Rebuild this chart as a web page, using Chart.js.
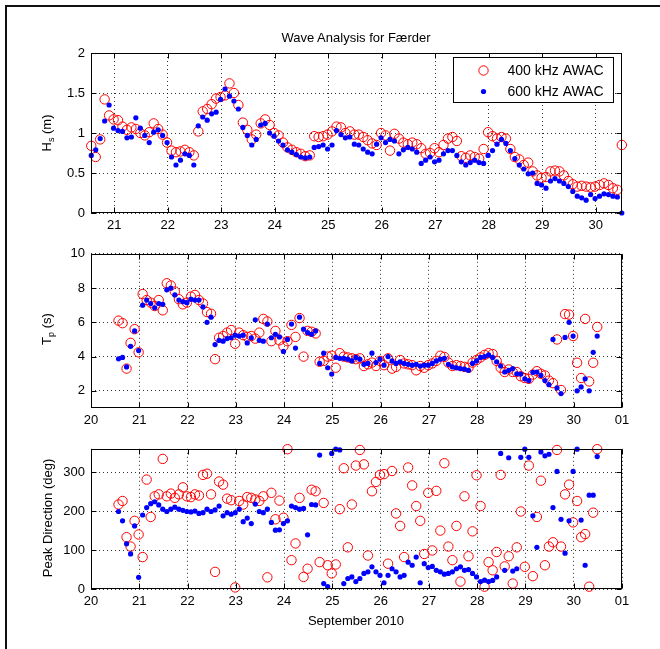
<!DOCTYPE html>
<html>
<head>
<meta charset="utf-8">
<script src="https://cdn.jsdelivr.net/npm/chart.js@4.4.1/dist/chart.umd.min.js"></script>
<style>
  body { margin: 0; background: #fff; }
  #fig { position: relative; width: 660px; height: 649px; overflow: hidden;
         font-family: "Liberation Sans", Arial, sans-serif; color: #000; }
  #fig canvas { position: absolute; left: 0; }
  .frame { position: absolute; left: 5px; top: 5px; width: 700px; height: 700px;
           border-top: 2px solid #111; border-left: 2px solid #111; }
  .lbl { position: absolute; font-size: 13px; white-space: nowrap; transform: translate(-50%, -50%); }
  .ylab { transform: translate(-50%, -50%) rotate(-90deg); }
  .ylab sub { font-size: 9px; vertical-align: -3px; }
</style>
</head>
<body>
<div id="fig">
  <div class="frame"></div>
  <canvas id="hs" width="660" height="240" style="top:0"></canvas>
  <canvas id="tp" width="660" height="195" style="top:240px"></canvas>
  <canvas id="dir" width="660" height="214" style="top:435px"></canvas>
  <div class="lbl" style="left:356px;top:37px">Wave Analysis for Færder</div>
  <div class="lbl ylab" style="left:47px;top:133px">H<sub>s</sub> (m)</div>
  <div class="lbl ylab" style="left:47px;top:329px">T<sub>p</sub> (s)</div>
  <div class="lbl ylab" style="left:47px;top:518px">Peak Direction (deg)</div>
  <div class="lbl" style="left:356px;top:620px">September 2010</div>
</div>
<script>
// samples every 2 hours, time in days of September 2010
const t0 = 20.57;
const dt = 2 / 24;

// significant wave height (m)
const hs400 = [
  0.84, 0.70, 0.92, 1.42, 1.22, 1.17, 1.16, 1.08, 1.04, 1.07,
  1.05, 1.00, 0.97, 1.01, 1.12, 1.05, 0.98, 0.88, 0.78, 0.76,
  0.77, 0.79, 0.76, 0.72, 1.02, 1.27, 1.30, 1.36, 1.43, 1.45,
  1.47, 1.62, 1.50, 1.35, 1.13, 1.04, 0.92, 0.98, 1.12, 1.17,
  1.10, 1.00, 0.97, 0.88, 0.82, 0.79, 0.76, 0.74, 0.71, 0.72,
  0.96, 0.95, 0.96, 0.98, 1.02, 1.08, 1.07, 1.00, 1.02, 0.98,
  0.98, 0.95, 0.91, 0.87, 0.85, 1.00, 0.97, 0.78, 0.99, 0.93,
  0.88, 0.86, 0.88, 0.86, 0.81, 0.74, 0.75, 0.81, 0.76, 0.85,
  0.93, 0.95, 0.90, 0.71, 0.69, 0.72, 0.70, 0.68, 0.80, 1.01,
  0.96, 0.93, 0.95, 0.93, 0.80, 0.70, 0.67, 0.60, 0.63, 0.52,
  0.47, 0.44, 0.45, 0.52, 0.53, 0.52, 0.47, 0.40, 0.36, 0.33,
  0.34, 0.33, 0.32, 0.33, 0.35, 0.37, 0.35, 0.31, 0.29, 0.85
];
const hs600 = [
  0.72, 0.79, 0.93, 1.15, 1.35, 1.06, 1.03, 1.02, 0.94, 0.95,
  1.19, 1.06, 0.97, 0.88, 1.01, 1.04, 0.97, 0.88, 0.70, 0.60,
  0.66, 0.74, 0.72, 0.60, 1.09, 1.20, 1.16, 1.24, 1.26, 1.42,
  1.55, 1.46, 1.40, 1.30, 1.07, 0.97, 0.85, 0.92, 1.10, 1.12,
  1.00, 0.96, 0.90, 0.85, 0.79, 0.76, 0.73, 0.70, 0.69, 0.70,
  0.82, 0.83, 0.85, 0.80, 0.85, 1.03, 0.98, 0.94, 0.95, 0.86,
  0.85, 0.80, 0.76, 0.74, 0.86, 0.94, 0.88, 0.92, 0.90, 0.74,
  0.79, 0.82, 0.80, 0.76, 0.62, 0.66, 0.70, 0.64, 0.66, 0.74,
  0.78, 0.78, 0.72, 0.64, 0.60, 0.63, 0.66, 0.63, 0.62, 0.72,
  0.78, 0.86, 0.92, 0.87, 0.78, 0.68, 0.60, 0.55, 0.49, 0.50,
  0.37, 0.35, 0.31, 0.40, 0.43, 0.40, 0.37, 0.33, 0.27, 0.21,
  0.19, 0.16, 0.23, 0.18, 0.21, 0.24, 0.23, 0.21, 0.20, 0.00
];

// peak period (s)
const tp400 = [
  6.10, 5.95, 3.30, 4.80, 5.60, 4.25, 7.65, 7.30, 7.15, 6.95,
  7.30, 6.70, 8.28, 8.15, 7.80, 7.35, 7.05, 7.15, 7.50, 7.60,
  7.30, 7.10, 6.60, 6.50, 3.85, 5.10, 5.20, 5.40, 5.55, 4.75,
  5.40, 5.25, 5.15, 5.20, 5.05, 5.40, 6.20, 6.05, 4.90, 5.50,
  4.95, 4.60, 4.90, 5.85, 5.15, 6.25, 4.00, 5.50, 5.45, 5.35,
  3.70, 3.75, 4.00, 4.05, 3.35, 4.20, 4.00, 3.95, 3.90, 3.85,
  3.90, 3.45, 3.55, 3.65, 3.45, 3.75, 3.50, 3.90, 3.30, 3.40,
  3.80, 3.60, 3.55, 3.50, 3.20, 3.45, 3.35, 3.50, 3.60, 3.75,
  4.05, 3.98, 3.65, 3.45, 3.50, 3.45, 3.40, 3.35, 3.65, 3.80,
  3.95, 4.10, 4.20, 4.15, 3.75, 3.35, 3.10, 3.25, 3.10, 3.10,
  2.85, 2.75, 2.70, 2.95, 3.15, 3.00, 2.90, 2.60, 2.45, 5.00,
  2.05, 6.48, 6.45, 5.20, 3.64, 2.75, 6.20, 2.55, 3.64, 5.73
];
const tp600 = [
  3.87, 3.95, 3.40, 4.60, 5.50, 4.35, 7.00, 7.30, 7.10, 6.85,
  7.10, 7.05, 7.90, 8.00, 7.60, 7.30, 7.20, 7.15, 7.35, 7.30,
  7.30, 6.90, 6.00, 6.30, 4.70, 4.95, 4.90, 5.05, 5.10, 5.25,
  5.20, 5.25, 4.80, 5.10, 6.15, 4.95, 4.90, 5.90, 5.10, 5.30,
  5.15, 4.30, 5.00, 5.90, 4.50, 6.30, 5.60, 5.40, 5.30, 5.50,
  3.60, 4.20, 3.35, 2.98, 3.95, 3.90, 3.90, 3.85, 3.75, 3.95,
  3.85, 3.55, 3.60, 4.20, 3.65, 3.85, 3.50, 4.00, 3.75, 3.60,
  3.70, 3.60, 3.55, 3.50, 3.55, 3.45, 3.50, 3.50, 3.60, 3.75,
  3.85, 3.90, 3.55, 3.40, 3.35, 3.30, 3.27, 3.20, 3.60, 3.75,
  3.95, 4.00, 4.10, 3.95, 3.70, 3.45, 3.10, 3.20, 3.30, 3.00,
  2.98, 2.70, 2.60, 3.08, 3.10, 2.90, 2.60, 2.36, 5.00, 2.17,
  1.84, 5.12, 6.00, 5.20, 2.00, 2.23, 2.70, 2.00, 4.25, 5.20
];

// peak direction (deg)
const dir400 = [
  217, 226, 133, 109, 175, 140, 82, 281, 185, 238,
  243, 334, 238, 245, 234, 243, 261, 238, 236, 243,
  240, 293, 296, 243, 44, 276, 268, 232, 228, 4,
  226, 217, 236, 234, 230, 226, 238, 30, 247, 179,
  227, 183, 359, 74, 117, 234, 31, 52, 255, 251,
  69, 221, 61, 40, 63, 205, 310, 107, 217, 317,
  357, 320, 86, 251, 275, 293, 295, 65, 303, 194,
  162, 82, 312, 266, 213, 175, 90, 247, 99, 252,
  150, 323, 109, 74, 162, 19, 238, 84, 148, 292,
  213, 6, 69, 48, 95, 293, 58, 84, 14, 107,
  199, 57, 317, 33, 185, 278, 61, 109, 120, 357,
  109, 243, 268, 171, 226, 133, 141, 6, 196, 359
];
const dir600 = [
  199, 175, 116, 90, 162, 30, 190, 209, 219, 224,
  216, 205, 199, 205, 210, 205, 202, 199, 198, 200,
  194, 196, 205, 199, 203, 213, 188, 196, 192, 196,
  205, 173, 182, 168, 218, 199, 196, 205, 171, 151,
  152, 168, 175, 213, 209, 205, 207, 139, 217, 216,
  344, 14, 6, 348, 359, 357, 14, 27, 31, 19,
  27, 40, 44, 57, 44, 35, 16, 35, 52, 44,
  31, 35, 69, 61, 82, 16, 65, 55, 58, 48,
  44, 38, 40, 44, 52, 57, 48, 50, 40, 31,
  19, 23, 19, 22, 31, 348, 48, 337, 46, 52,
  338, 359, 338, 188, 107, 352, 342, 346, 209, 302,
  179, 92, 175, 302, 359, 177, 61, 241, 241, 340
];

// ticks
const hsTicks = [0, 0.5, 1, 1.5, 2];
const tpTicks = [2, 4, 6, 8, 10];
const dirTicks = [0, 100, 200, 300];
const hsDayTicks = [21, 22, 23, 24, 25, 26, 27, 28, 29, 30];
const hsDayLabels = ['21', '22', '23', '24', '25', '26', '27', '28', '29', '30'];
const dayTicks = [20, 21, 22, 23, 24, 25, 26, 27, 28, 29, 30, 31];
const dayLabels = ['20', '21', '22', '23', '24', '25', '26', '27', '28', '29', '30', '01'];

const times = hs400.map((_, i) => t0 + i * dt);
const FONT = '"Liberation Sans", Arial, sans-serif';

// matlab style box, inward ticks and boxed legend
const axesBox = {
  id: 'axesBox',
  afterDatasetsDraw(chart) {
    const { ctx, chartArea: a, scales } = chart;
    const L = Math.round(a.left) + 0.5, R = Math.round(a.right) - 0.5;
    const T = Math.round(a.top) + 0.5, B = Math.round(a.bottom) - 0.5;
    ctx.save();
    ctx.strokeStyle = '#000';
    ctx.lineWidth = 1;
    ctx.strokeRect(L, T, R - L, B - T);
    ctx.beginPath();
    scales.x.ticks.forEach(tk => {
      const px = Math.round(scales.x.getPixelForValue(tk.value)) + 0.5;
      ctx.moveTo(px, B); ctx.lineTo(px, B - 5);
      ctx.moveTo(px, T); ctx.lineTo(px, T + 5);
    });
    scales.y.ticks.forEach(tk => {
      const py = Math.round(scales.y.getPixelForValue(tk.value)) + 0.5;
      ctx.moveTo(L, py); ctx.lineTo(L + 5, py);
      ctx.moveTo(R, py); ctx.lineTo(R - 5, py);
    });
    ctx.stroke();
    ctx.restore();
  },
  afterDraw(chart, args, opts) {
    if (!opts.legend) return;
    const { ctx, chartArea: a } = chart;
    const w = 160, h = 45;
    const x = Math.round(a.right - 9 - w) + 0.5, y = Math.round(a.top + 4) + 0.5;
    ctx.save();
    ctx.fillStyle = '#fff';
    ctx.fillRect(x, y, w, h);
    ctx.strokeStyle = '#000';
    ctx.lineWidth = 1;
    ctx.strokeRect(x, y, w, h);
    ctx.font = '14px ' + FONT;
    ctx.textBaseline = 'middle';
    chart.data.datasets.forEach((ds, i) => {
      const cy = y + 13 + i * 21;
      ctx.beginPath();
      ctx.arc(x + 30, cy, ds.pointRadius, 0, Math.PI * 2);
      if (ds.pointBorderWidth > 0) {
        ctx.strokeStyle = ds.borderColor;
        ctx.lineWidth = ds.pointBorderWidth;
        ctx.stroke();
      } else {
        ctx.fillStyle = ds.backgroundColor;
        ctx.fill();
      }
      ctx.fillStyle = '#000';
      ctx.fillText(ds.label, x + 54, cy + 0.5);
    });
    ctx.restore();
  }
};

function panel(id, opt) {
  const pts = vals => vals.map((v, i) => ({ x: times[i], y: v }));
  new Chart(document.getElementById(id), {
    type: 'scatter',
    data: {
      datasets: [
        {
          label: '400 kHz AWAC',
          data: pts(opt.red),
          pointStyle: 'circle',
          pointRadius: 4.7,
          pointBorderWidth: 1,
          borderColor: '#ff0000',
          backgroundColor: 'rgba(255,255,255,0)',
          order: 2,
          clip: false
        },
        {
          label: '600 kHz AWAC',
          data: pts(opt.blue),
          pointStyle: 'circle',
          pointRadius: 2.6,
          pointBorderWidth: 0,
          borderColor: '#0000ff',
          backgroundColor: '#0000ff',
          order: 1,
          clip: false
        }
      ]
    },
    options: {
      responsive: false,
      animation: false,
      events: [],
      layout: { padding: { top: opt.top, right: 38, left: 0, bottom: 0 } },
      scales: {
        x: {
          type: 'linear',
          min: opt.xMin,
          max: opt.xMax,
          afterBuildTicks: s => { s.ticks = opt.xTicks.map(v => ({ value: v })); },
          afterFit: s => { s.height = opt.xHeight; },
          ticks: {
            callback: v => opt.xLabels[opt.xTicks.indexOf(v)],
            color: '#000',
            font: { family: FONT, size: 13 },
            padding: 5,
            maxRotation: 0,
            autoSkip: false
          },
          grid: { color: 'rgba(0,0,0,0.8)', drawTicks: false, lineWidth: 1 },
          border: { display: false, dash: [1, 3] }
        },
        y: {
          min: opt.yMin,
          max: opt.yMax,
          afterBuildTicks: s => { s.ticks = opt.yTicks.map(v => ({ value: v })); },
          afterFit: s => { s.width = 91; },
          ticks: {
            callback: v => String(v),
            color: '#000',
            font: { family: FONT, size: 13 },
            padding: 6
          },
          grid: { color: 'rgba(0,0,0,0.8)', drawTicks: false, lineWidth: 1 },
          border: { display: false, dash: [1, 3] }
        }
      },
      plugins: {
        legend: { display: false },
        tooltip: { enabled: false },
        axesBox: { legend: opt.legend }
      }
    },
    plugins: [axesBox]
  });
}

panel('hs', {
  red: hs400, blue: hs600, top: 53, xHeight: 27,
  xMin: 20.565, xMax: 30.49, xTicks: hsDayTicks, xLabels: hsDayLabels,
  yMin: 0, yMax: 2, yTicks: hsTicks, legend: true
});
panel('tp', {
  red: tp400, blue: tp600, top: 10, xHeight: 27,
  xMin: 20, xMax: 31, xTicks: dayTicks, xLabels: dayLabels,
  yMin: 1, yMax: 10, yTicks: tpTicks, legend: false
});
panel('dir', {
  red: dir400, blue: dir600, top: 12, xHeight: 60,
  xMin: 20, xMax: 31, xTicks: dayTicks, xLabels: dayLabels,
  yMin: 0, yMax: 360, yTicks: dirTicks, legend: false
});
</script>
</body>
</html>
